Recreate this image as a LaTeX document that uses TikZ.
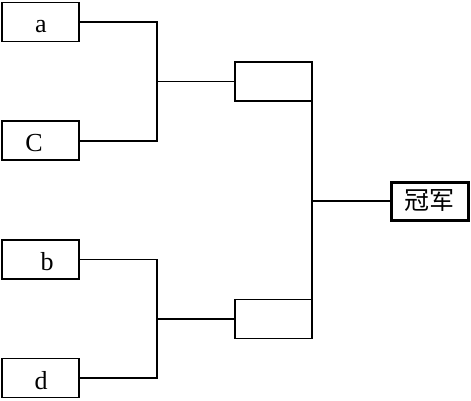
\documentclass[tikz,border=0pt]{standalone}
\usepackage{fontspec}
\setmainfont{Liberation Serif}
\newfontfamily\cjk{Noto Sans CJK SC}
\begin{document}
\begin{tikzpicture}[x=1pt,y=-1pt,
  box/.style={draw=black,line width=1.5pt,minimum width=77pt,minimum height=39pt,inner sep=0pt,outer sep=0pt},
  champbox/.style={draw=black,line width=3pt,minimum width=77pt,minimum height=38pt,inner sep=0pt,outer sep=0pt},
  lbl/.style={anchor=base,inner sep=0pt,font=\fontsize{26}{26}\selectfont},
  thick link/.style={line width=2pt},
  thin link/.style={line width=1.3pt}]
\useasboundingbox (0,0) rectangle (471,400);
% boxes
\node[box] (a) at (40.5,22) {};
\node[box] (c) at (40.5,140.5) {};
\node[box] (b) at (40.5,259.3) {};
\node[box] (d) at (40.5,378) {};
\node[box] (m1) at (273.5,81.5) {};
\node[box] (m2) at (273.5,319) {};
\node[champbox] (champ) at (429.5,201) {\fontsize{25}{25}\selectfont\cjk 冠军};
% labels
\node[lbl] (la) at (41,32) {a};
\node[lbl] (lc) at (34,151) {C};
\node[lbl] (lb) at (47,270.5) {b};
\node[lbl] (ld) at (41,389) {d};
% junctions
\coordinate (j1) at (157,81.5);
\coordinate (j2) at (157,319);
\coordinate (j3) at (312,201);
% connectors
\draw[thick link] (a.east) -| (j1) |- (c.east);
\draw[thin link] (j1) -- (m1.west);
\draw[thin link] (b.east) -| (j2);
\draw[thick link] (j2) |- (d.east);
\draw[thick link] (j2) -- (m2.west);
\draw[thin link] (m1.north east) -- (m2.south east);
\draw[thin link] (j3) -- (champ.west);
\end{tikzpicture}
\end{document}
